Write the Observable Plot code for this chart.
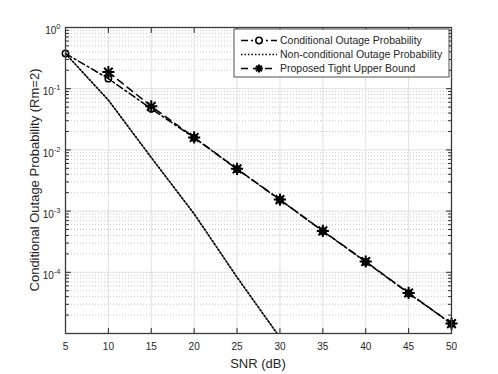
<!DOCTYPE html>
<html><head><meta charset="utf-8">
<script src="https://cdn.jsdelivr.net/npm/d3@7"></script>
<script src="https://cdn.jsdelivr.net/npm/@observablehq/plot@0.6"></script>
<style>
body{margin:0;background:#fff;}
#chart{position:relative;width:498px;height:374px;}
</style>
</head><body><div id="chart"></div>
<script>
// ---- data ----
const snr = [5, 10, 15, 20, 25, 30, 35, 40, 45, 50];
const conditional = [0.375, 0.146, 0.047, 0.0158, 0.00485, 0.00153, 4.7e-4, 1.48e-4, 4.55e-5, 1.44e-5];
const snrNonCond = [5, 10, 15, 20, 25, 30];
const nonConditional = [0.375, 0.065, 0.0075, 9.0e-4, 8.3e-5, 8.6e-6];
const snrBound = [10, 15, 20, 25, 30, 35, 40, 45, 50];
const upperBound = [0.187, 0.0515, 0.0160, 0.0049, 0.00154, 4.75e-4, 1.5e-4, 4.6e-5, 1.45e-5];
const xTicks = [5, 10, 15, 20, 25, 30, 35, 40, 45, 50];
const yTicks = [1e-4, 1e-3, 1e-2, 1e-1, 1];
const yTickExp = ["-4", "-3", "-2", "-1", "0"];
const legendLabels = ["Conditional Outage Probability", "Non-conditional Outage Probability", "Proposed Tight Upper Bound"];
const xTitle = "SNR (dB)";
const yTitle = "Conditional Outage Probability (Rm=2)";

const yMinor = [];
for (const e of [-5, -4, -3, -2, -1]) for (const m of [2,3,4,5,6,7,8,9]) yMinor.push(m * Math.pow(10, e));

const W = 498, H = 374, ML = 65, MR = 47, MT = 27, MB = 41;
const AX = "#262626";
const FONT = "'Liberation Sans', Arial, Helvetica, sans-serif";
const tickShape = {draw(context, l) { context.moveTo(0, 0); context.lineTo(0, -l); }};

const condData = snr.map((s, i) => ({snr: s, p: conditional[i]}));
const nonData = snrNonCond.map((s, i) => ({snr: s, p: nonConditional[i]}));
const boundData = snrBound.map((s, i) => ({snr: s, p: upperBound[i]}));

const DASHDOT = "7,3,2,3", DOTTED = "1.5,2", DASHED = "7,5";

const plot = Plot.plot({
  width: W, height: H,
  marginLeft: ML, marginRight: MR, marginTop: MT, marginBottom: MB,
  style: {fontFamily: FONT, fontSize: "10px", color: AX, background: "#fff", overflow: "visible"},
  x: {type: "linear", domain: [5, 50]},
  y: {type: "log", domain: [1e-5, 1]},
  marks: [
    Plot.ruleY(yMinor, {y: d => d, stroke: "#c8c8c8", strokeWidth: 1, strokeDasharray: "1,2"}),
    Plot.ruleY(yTicks, {y: d => d, stroke: "#e0e0e0", strokeWidth: 1}),
    Plot.ruleX(xTicks, {x: d => d, stroke: "#e0e0e0", strokeWidth: 1}),
    Plot.line(nonData, {x: "snr", y: "p", stroke: "#000", strokeWidth: 1.7, strokeDasharray: DOTTED, clip: true}),
    Plot.line(condData, {x: "snr", y: "p", stroke: "#000", strokeWidth: 1.5, strokeDasharray: DASHDOT}),
    Plot.line(boundData, {x: "snr", y: "p", stroke: "#000", strokeWidth: 1.5, strokeDasharray: DASHED}),
    Plot.dot(condData, {x: "snr", y: "p", r: 3.2, stroke: "#000", strokeWidth: 1.5, fill: "none"}),
    Plot.dot(boundData, {x: "snr", y: "p", symbol: "plus", r: 4, stroke: "#000", strokeWidth: 2}),
    Plot.dot(boundData, {x: "snr", y: "p", symbol: "times", r: 4, stroke: "#000", strokeWidth: 2}),
    // inward ticks on all four sides
    Plot.vector(xTicks, {x: d => d, frameAnchor: "bottom", length: 5, rotate: 0, anchor: "start", shape: tickShape, stroke: AX, strokeWidth: 1}),
    Plot.vector(xTicks, {x: d => d, frameAnchor: "top", length: 5, rotate: 180, anchor: "start", shape: tickShape, stroke: AX, strokeWidth: 1}),
    Plot.vector(yTicks, {y: d => d, frameAnchor: "left", length: 5, rotate: 90, anchor: "start", shape: tickShape, stroke: AX, strokeWidth: 1}),
    Plot.vector(yTicks, {y: d => d, frameAnchor: "right", length: 5, rotate: 270, anchor: "start", shape: tickShape, stroke: AX, strokeWidth: 1}),
    Plot.vector(yMinor, {y: d => d, frameAnchor: "left", length: 3, rotate: 90, anchor: "start", shape: tickShape, stroke: AX, strokeWidth: 1}),
    Plot.vector(yMinor, {y: d => d, frameAnchor: "right", length: 3, rotate: 270, anchor: "start", shape: tickShape, stroke: AX, strokeWidth: 1}),
    Plot.frame({stroke: "#3a3a3a", strokeWidth: 1.3}),
    Plot.axisX(xTicks, {anchor: "bottom", tickSize: 0, tickPadding: 9, label: null, fontSize: 10, fill: AX}),
    Plot.axisY(yTicks, {anchor: "left", tickSize: 0, tickPadding: 5, label: null, dy: 3.5, fontSize: 10, fill: AX,
      tickFormat: d => "10^" + yTickExp[yTicks.indexOf(d)]})
  ]
});

const svg = d3.select(plot);
// superscripts on y tick labels
svg.selectAll('g[aria-label="y-axis tick label"] text').each(function() {
  const t = d3.select(this);
  const s = t.text();
  const [b, e] = s.split("^");
  t.text(null);
  t.append("tspan").text(b);
  t.append("tspan").attr("dy", -5).attr("font-size", "7.5px").text(e);
});

// axis titles
svg.append("text").attr("x", (ML + W - MR) / 2).attr("y", 367.5).attr("text-anchor", "middle")
  .attr("font-family", FONT).attr("font-size", 13).attr("fill", AX).text(xTitle);
svg.append("text").attr("transform", `translate(39,${(MT + H - MB) / 2}) rotate(-90)`).attr("text-anchor", "middle")
  .attr("font-family", FONT).attr("font-size", 13).attr("fill", AX).text(yTitle);

// legend
const lg = svg.append("g").attr("font-family", FONT).attr("font-size", 10.5).attr("text-anchor", "start");
lg.append("rect").attr("x", 234).attr("y", 29).attr("width", 215).attr("height", 48)
  .attr("fill", "#ffffff").attr("stroke", AX).attr("stroke-width", 0.8);
const rows = [40.5, 54.5, 68.5];
const dashes = [DASHDOT, DOTTED, DASHED];
rows.forEach((ry, i) => {
  lg.append("line").attr("x1", 241).attr("x2", 277).attr("y1", ry).attr("y2", ry)
    .attr("stroke", "#000").attr("stroke-width", i === 1 ? 1.7 : 1.5).attr("stroke-dasharray", dashes[i]);
  lg.append("text").attr("x", 280).attr("y", ry).attr("dy", "0.35em").attr("fill", AX)
    .attr("text-anchor", "start").text(legendLabels[i]);
});
lg.append("circle").attr("cx", 259).attr("cy", rows[0]).attr("r", 3.2).attr("fill", "#fff").attr("stroke", "#000").attr("stroke-width", 1.5);
const s3 = lg.append("g").attr("transform", `translate(259,${rows[2]})`).attr("stroke", "#000").attr("stroke-width", 2);
[0, 45, 90, 135].forEach(a => {
  const r = 4, rad = a * Math.PI / 180;
  s3.append("line").attr("x1", -r * Math.cos(rad)).attr("y1", -r * Math.sin(rad)).attr("x2", r * Math.cos(rad)).attr("y2", r * Math.sin(rad));
});

document.getElementById("chart").appendChild(plot);
</script>
</body></html>
